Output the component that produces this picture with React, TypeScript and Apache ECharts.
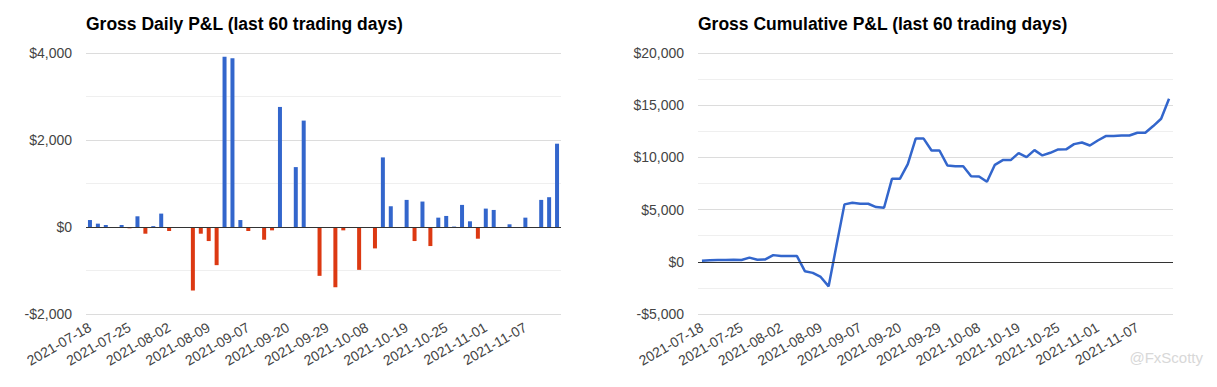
import React, { useEffect, useRef } from "react";
import * as echarts from "echarts";

const dates = [
  "2021-07-18", "2021-07-19", "2021-07-20", "2021-07-21", "2021-07-22",
  "2021-07-25", "2021-07-26", "2021-07-27", "2021-07-28", "2021-07-29",
  "2021-08-02", "2021-08-03", "2021-08-04", "2021-08-05", "2021-08-06",
  "2021-08-09", "2021-08-10", "2021-08-11", "2021-08-12", "2021-09-06",
  "2021-09-07", "2021-09-08", "2021-09-09", "2021-09-13", "2021-09-14",
  "2021-09-20", "2021-09-21", "2021-09-22", "2021-09-23", "2021-09-27",
  "2021-09-29", "2021-09-30", "2021-10-01", "2021-10-05", "2021-10-06",
  "2021-10-08", "2021-10-11", "2021-10-12", "2021-10-13", "2021-10-14",
  "2021-10-19", "2021-10-20", "2021-10-21", "2021-10-22", "2021-10-24",
  "2021-10-25", "2021-10-26", "2021-10-27", "2021-10-28", "2021-10-29",
  "2021-11-01", "2021-11-02", "2021-11-03", "2021-11-04", "2021-11-05",
  "2021-11-07", "2021-11-08", "2021-11-09", "2021-11-10", "2021-11-11",
];

const dailyPnl = [
  160, 77, 46, -10, 46, -30, 246, -154, 20, 308,
  -92, 0, 0, -1460, -154, -323, -877, 3915, 3877, 160,
  -92, 0, -292, -77, 2760, 0, 1377, 2446, 0, -1123,
  0, -1385, -77, 0, -985, 0, -492, 1600, 477, 0,
  623, -323, 585, -438, 215, 254, 10, 508, 131, -269,
  423, 392, 0, 62, 0, 215, 0, 623, 685, 1915,
];

const cumulativePnl = [
  100, 150, 180, 180, 200, 170, 400, 200, 230, 640,
  550, 550, 550, -900, -1060, -1450, -2350, 1600, 5500, 5650,
  5560, 5560, 5240, 5180, 7950, 7950, 9350, 11800, 11800, 10660,
  10660, 9230, 9160, 9160, 8200, 8170, 7660, 9290, 9740, 9740,
  10410, 10030, 10700, 10190, 10440, 10760, 10770, 11270, 11430, 11140,
  11620, 12040, 12040, 12100, 12100, 12360, 12360, 13000, 13700, 15610,
];

const leftTitle = "Gross Daily P&L (last 60 trading days)";
const rightTitle = "Gross Cumulative P&L (last 60 trading days)";
const watermark = "@FxScotty";

const FONT = "Arial, 'Liberation Sans', sans-serif";
const BLUE = "#3366cc";
const RED = "#dc3912";

const money = (v: number) =>
  (v < 0 ? "-" : "") + "$" + Math.abs(v).toLocaleString("en-US");

export default function App() {
  const ref = useRef<HTMLDivElement>(null);
  useEffect(() => {
    if (!ref.current) return;
    const chart = echarts.init(ref.current, null, { renderer: "svg" });
    const xAxisBase = (gridIndex: number) => ({
      type: "category",
      gridIndex,
      data: dates,
      boundaryGap: true,
      position: "bottom",
      axisLine: { show: false, onZero: false },
      axisTick: { show: false },
      splitLine: { show: false },
      axisLabel: {
        interval: 4,
        rotate: 30,
        margin: 12,
        color: "#444",
        fontSize: 14,
        fontFamily: FONT,
      },
    });
    const yAxisBase = (gridIndex: number, min: number, max: number, interval: number) => ({
      type: "value",
      gridIndex,
      min,
      max,
      interval,
      axisLine: { show: false },
      axisTick: { show: false },
      axisLabel: {
        formatter: money,
        color: "#444",
        fontSize: 14,
        fontFamily: FONT,
        margin: 14,
      },
      splitLine: { show: true, lineStyle: { color: "#dcdcdc", width: 1 } },
      minorTick: { show: false, splitNumber: 2 },
      minorSplitLine: { show: true, lineStyle: { color: "#efefef", width: 1 } },
    });
    const baseline = {
      silent: true,
      symbol: "none",
      label: { show: false },
      lineStyle: { color: "#333", width: 1, type: "solid" },
      data: [{ yAxis: 0 }],
    };
    const titleStyle = { fontSize: 17.5, fontWeight: "bold", color: "#000", fontFamily: FONT };
    chart.setOption({
      animation: false,
      backgroundColor: "#ffffff",
      title: [
        { text: leftTitle, left: 81, top: 10, textStyle: titleStyle },
        { text: rightTitle, left: 693, top: 10, textStyle: titleStyle },
      ],
      grid: [
        { left: 86, top: 53, width: 475, height: 261, containLabel: false },
        { left: 698, top: 53, width: 475, height: 261, containLabel: false },
      ],
      xAxis: [xAxisBase(0), xAxisBase(1)],
      yAxis: [yAxisBase(0, -2000, 4000, 2000), yAxisBase(1, -5000, 20000, 5000)],
      series: [
        {
          type: "bar",
          xAxisIndex: 0,
          yAxisIndex: 0,
          data: dailyPnl,
          barWidth: 4,
          itemStyle: {
            color: (p: any) => (p.value >= 0 ? BLUE : RED),
          },
          markLine: baseline,
        },
        {
          type: "line",
          xAxisIndex: 1,
          yAxisIndex: 1,
          data: cumulativePnl,
          showSymbol: false,
          symbol: "none",
          lineStyle: { color: BLUE, width: 2.5 },
          itemStyle: { color: BLUE },
          markLine: baseline,
        },
      ],
      graphic: [
        {
          type: "text",
          right: 14,
          top: 350,
          style: {
            text: watermark,
            fill: "#d8d8d8",
            fontSize: 15,
            fontFamily: FONT,
          },
        },
      ],
    });
    return () => chart.dispose();
  }, []);
  return (
    <div
      ref={ref}
      style={{ position: "fixed", left: 0, top: 0, width: 1217, height: 387 }}
    />
  );
}
